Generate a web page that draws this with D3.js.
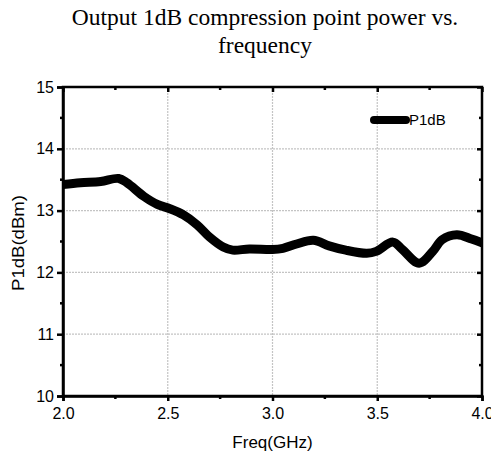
<!DOCTYPE html>
<html>
<head>
<meta charset="utf-8">
<script src="https://cdn.jsdelivr.net/npm/d3@7"></script>
<style>
  body { margin: 0; background: #fff; }
  .tick text { font-family: Arial, "Liberation Sans", sans-serif; font-size: 16px; fill: #000; }
  .axisLabel { font-family: Arial, "Liberation Sans", sans-serif; font-size: 17px; fill: #000; }
  .title { font-family: "Times New Roman", "Liberation Serif", serif; font-size: 23.5px; fill: #000; }
</style>
</head>
<body>
<div id="chart"></div>
<script>
// data
const freq = [2.0, 2.083, 2.18, 2.266, 2.305, 2.386, 2.45, 2.51, 2.575, 2.64, 2.70, 2.765, 2.81, 2.89, 3.0,
              3.05, 3.115, 3.195, 3.27, 3.35, 3.45, 3.495, 3.575, 3.62, 3.70, 3.765, 3.81, 3.88, 3.95, 4.0];
const p1db = [13.42, 13.45, 13.47, 13.52, 13.45, 13.23, 13.10, 13.03, 12.93, 12.77, 12.57, 12.41, 12.36, 12.38, 12.37,
              12.39, 12.46, 12.52, 12.43, 12.36, 12.31, 12.34, 12.49, 12.37, 12.15, 12.34, 12.53, 12.61, 12.54, 12.48];
const xTicks = [2.0, 2.5, 3.0, 3.5, 4.0];
const yTicks = [10, 11, 12, 13, 14, 15];
const xMinor = [2.25, 2.75, 3.25, 3.75];
const yMinor = [10.5, 11.5, 12.5, 13.5, 14.5];
const seriesName = "P1dB";

const width = 491;
const height = 457;
const margin = { top: 87, left: 63, right: 9, bottom: 61 };

const svg = d3.select("#chart")
    .append("svg")
    .attr("width", width)
    .attr("height", height);

const data = freq.map((f, i) => ({ f: f, p: p1db[i] }));

const xScale = d3.scaleLinear()
    .domain([2, 4])
    .range([margin.left, width - margin.right]);

const yScale = d3.scaleLinear()
    .domain([10, 15])
    .range([height - margin.bottom, margin.top]);

// grid lines
const grid = svg.append("g")
    .attr("stroke", "#c4c4c4")
    .attr("stroke-width", 1.2)
    .attr("stroke-dasharray", "2,1");
grid.selectAll(".gx")
    .data(xTicks.slice(1, -1))
    .enter()
    .append("line")
    .attr("x1", d => xScale(d)).attr("x2", d => xScale(d))
    .attr("y1", yScale(15)).attr("y2", yScale(10));
grid.selectAll(".gy")
    .data(yTicks.slice(1, -1))
    .enter()
    .append("line")
    .attr("x1", xScale(2)).attr("x2", xScale(4))
    .attr("y1", d => yScale(d)).attr("y2", d => yScale(d));

// the curve
const line = d3.line()
    .x(d => xScale(d.f))
    .y(d => yScale(d.p))
    .curve(d3.curveCatmullRom.alpha(0.5));

svg.append("clipPath").attr("id", "clip")
    .append("rect")
    .attr("x", xScale(2)).attr("y", yScale(15))
    .attr("width", xScale(4) - xScale(2))
    .attr("height", yScale(10) - yScale(15));

svg.append("path")
    .datum(data)
    .attr("clip-path", "url(#clip)")
    .attr("fill", "none")
    .attr("stroke", "#000")
    .attr("stroke-width", 9)
    .attr("stroke-linejoin", "round")
    .attr("stroke-linecap", "round")
    .attr("d", line);

// axes: outward ticks on bottom/left, inward on top/right
const xAxis = svg.append("g")
    .attr("transform", `translate(0,${yScale(10)})`)
    .call(d3.axisBottom(xScale).tickValues(xTicks).tickFormat(d3.format(".1f")).tickSize(5).tickPadding(7));

const yAxis = svg.append("g")
    .attr("transform", `translate(${xScale(2)},0)`)
    .call(d3.axisLeft(yScale).tickValues(yTicks).tickFormat(d3.format("d")).tickSize(6).tickPadding(3));

const xTop = svg.append("g")
    .attr("transform", `translate(0,${yScale(15)})`)
    .call(d3.axisBottom(xScale).tickValues(xTicks).tickFormat("").tickSize(5));

const yRight = svg.append("g")
    .attr("transform", `translate(${xScale(4)},0)`)
    .call(d3.axisLeft(yScale).tickValues(yTicks).tickFormat("").tickSize(5));

[xAxis, yAxis, xTop, yRight].forEach(g => {
    g.select(".domain").attr("stroke", "#000").attr("stroke-width", 2.5);
    g.selectAll(".tick line").attr("stroke", "#000").attr("stroke-width", 2.5);
});
xTop.select(".domain").remove();
yRight.select(".domain").remove();

// frame
svg.append("rect")
    .attr("x", xScale(2)).attr("y", yScale(15))
    .attr("width", xScale(4) - xScale(2))
    .attr("height", yScale(10) - yScale(15))
    .attr("fill", "none")
    .attr("stroke", "#000")
    .attr("stroke-width", 2.5);

// minor ticks
const minor = svg.append("g").attr("stroke", "#000").attr("stroke-width", 2.5);
minor.selectAll(".mb").data(xMinor).enter().append("line")
    .attr("x1", d => xScale(d)).attr("x2", d => xScale(d))
    .attr("y1", yScale(10)).attr("y2", yScale(10) + 3);
minor.selectAll(".mt").data(xMinor).enter().append("line")
    .attr("x1", d => xScale(d)).attr("x2", d => xScale(d))
    .attr("y1", yScale(15)).attr("y2", yScale(15) + 3);
minor.selectAll(".ml").data(yMinor).enter().append("line")
    .attr("x1", xScale(2)).attr("x2", xScale(2) - 3)
    .attr("y1", d => yScale(d)).attr("y2", d => yScale(d));
minor.selectAll(".mr").data(yMinor).enter().append("line")
    .attr("x1", xScale(4)).attr("x2", xScale(4) - 3)
    .attr("y1", d => yScale(d)).attr("y2", d => yScale(d));

// legend
svg.append("line")
    .attr("x1", 374).attr("x2", 406)
    .attr("y1", 120).attr("y2", 120)
    .attr("stroke", "#000")
    .attr("stroke-width", 8)
    .attr("stroke-linecap", "round");
svg.append("text")
    .attr("class", "axisLabel")
    .attr("x", 409)
    .attr("y", 125)
    .style("font-size", "15px")
    .text(seriesName);

// labels
svg.append("text")
    .attr("class", "axisLabel")
    .attr("text-anchor", "middle")
    .attr("x", xScale(3))
    .attr("y", 448)
    .text("Freq(GHz)");

svg.append("text")
    .attr("class", "axisLabel")
    .attr("text-anchor", "middle")
    .attr("transform", "rotate(-90)")
    .attr("x", -243)
    .attr("y", 24)
    .attr("textLength", 96)
    .attr("lengthAdjust", "spacingAndGlyphs")
    .text("P1dB(dBm)");

svg.append("text")
    .attr("class", "title")
    .attr("text-anchor", "middle")
    .attr("x", 265)
    .attr("y", 25)
    .text("Output 1dB compression point power vs.");
svg.append("text")
    .attr("class", "title")
    .attr("text-anchor", "middle")
    .attr("x", 265)
    .attr("y", 53)
    .text("frequency");
</script>
</body>
</html>
